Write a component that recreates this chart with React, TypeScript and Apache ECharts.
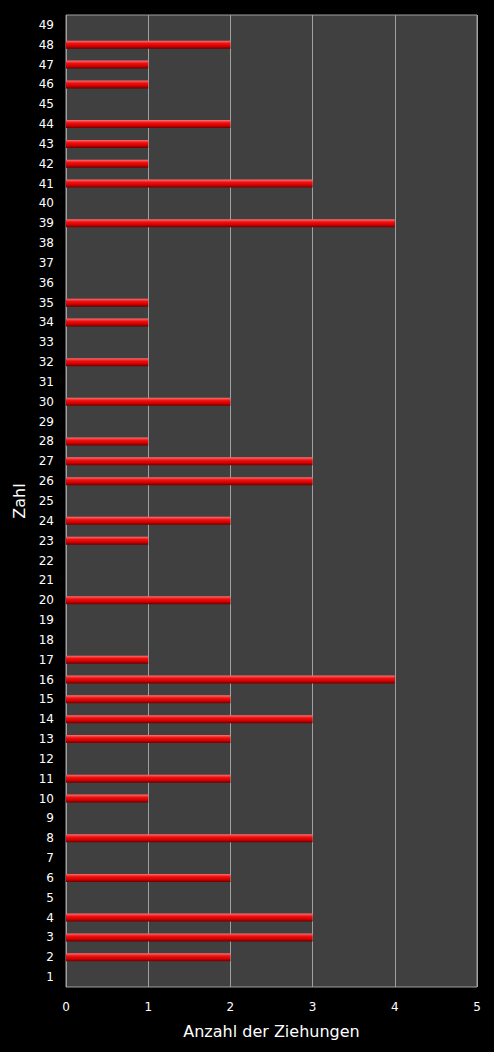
import { useEffect, useRef } from "react";
import * as echarts from "echarts";

const zahlen = Array.from({ length: 49 }, (_, i) => String(i + 1));

// Anzahl der Ziehungen je Zahl (1..49)
const ziehungen = [
  0, 2, 3, 3, 0, 2, 0, 3, 0, 1,
  2, 0, 2, 3, 2, 4, 1, 0, 0, 2,
  0, 0, 1, 2, 0, 3, 3, 1, 0, 2,
  0, 1, 0, 1, 1, 0, 0, 0, 4, 0,
  3, 1, 1, 2, 0, 1, 1, 2, 0,
];

const xTicks = [0, 1, 2, 3, 4, 5];

const FONT = "DejaVu Sans, Verdana, sans-serif";

export default function App() {
  const ref = useRef<HTMLDivElement>(null);

  useEffect(() => {
    document.body.style.margin = "0";
    if (!ref.current) return;
    const chart = echarts.init(ref.current, undefined, { renderer: "svg" });

    chart.setOption({
      animation: false,
      backgroundColor: "#000000",
      grid: {
        left: 66,
        right: 17,
        top: 15,
        bottom: 65,
        show: true,
        backgroundColor: "#404040",
        borderColor: "#a0a0a0",
        borderWidth: 1,
      },
      xAxis: {
        type: "value",
        min: xTicks[0],
        max: xTicks[xTicks.length - 1],
        interval: 1,
        name: "Anzahl der Ziehungen",
        nameLocation: "middle",
        nameGap: 36,
        nameTextStyle: { color: "#ffffff", fontSize: 16, fontFamily: FONT },
        axisLine: { show: false },
        axisTick: { show: false },
        axisLabel: { color: "#ffffff", fontSize: 12, fontFamily: FONT, margin: 14 },
        splitLine: { lineStyle: { color: "#a0a0a0", width: 1 } },
      },
      yAxis: {
        type: "category",
        data: zahlen,
        name: "Zahl",
        nameLocation: "middle",
        nameGap: 33,
        nameRotate: 90,
        nameTextStyle: { color: "#ffffff", fontSize: 16, fontFamily: FONT },
        axisLine: { show: false },
        axisTick: { show: false },
        axisLabel: {
          color: "#ffffff",
          fontSize: 12,
          fontFamily: FONT,
          interval: 0,
          margin: 12,
        },
        splitLine: { show: false },
      },
      series: [
        {
          type: "bar",
          data: ziehungen,
          barWidth: 8,
          itemStyle: {
            color: new echarts.graphic.LinearGradient(0, 0, 0, 1, [
              { offset: 0, color: "#ff7070" },
              { offset: 0.35, color: "#ee1010" },
              { offset: 0.7, color: "#d00000" },
              { offset: 1, color: "#6a0000" },
            ]),
          },
        },
      ],
    });

    return () => chart.dispose();
  }, []);

  return <div ref={ref} style={{ width: 494, height: 1052, background: "#000" }} />;
}
